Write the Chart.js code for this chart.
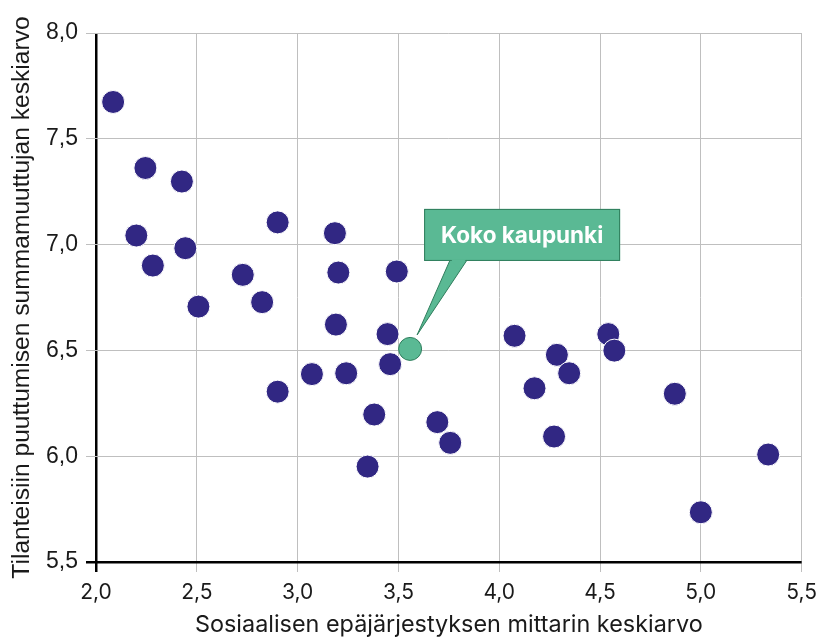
<!DOCTYPE html>
<html>
<head>
<meta charset="utf-8">
<script src="https://cdn.jsdelivr.net/npm/chart.js@4/dist/chart.umd.min.js"></script>
<style>
  html, body { margin: 0; padding: 0; background: #ffffff; }
  #wrap { width: 825px; height: 639px; position: relative; }
</style>
</head>
<body>
<div id="wrap"><canvas id="c" width="825" height="639"></canvas></div>
<script>
// ---- Data ----
const xTitle = 'Sosiaalisen epäjärjestyksen mittarin keskiarvo';
const yTitle = 'Tilanteisiin puuttumisen summamuuttujan keskiarvo';

// districts: social disorder mean (x) and intervention mean (y)
const districtX = [2.085, 2.245, 2.426, 2.200, 2.443, 2.282, 2.901, 2.728, 2.508, 2.824,
                   3.185, 3.202, 3.492, 3.190, 3.446, 3.459, 3.071, 3.241, 2.901, 3.380,
                   3.347, 3.693, 3.757, 4.076, 4.286, 4.347, 4.175, 4.272, 4.541, 4.571,
                   4.871, 5.334, 5.000];
const districtY = [7.674, 7.362, 7.298, 7.043, 6.983, 6.901, 7.105, 6.857, 6.707, 6.728,
                   7.054, 6.868, 6.873, 6.622, 6.577, 6.435, 6.388, 6.392, 6.305, 6.197,
                   5.951, 6.161, 6.063, 6.569, 6.479, 6.392, 6.321, 6.093, 6.577, 6.499,
                   6.295, 6.008, 5.735];

// whole city
const cityLabel = 'Koko kaupunki';
const cityX = [3.558];
const cityY = [6.507];

const xTicks = [2.0, 2.5, 3.0, 3.5, 4.0, 4.5, 5.0, 5.5];
const yTicks = [5.5, 6.0, 6.5, 7.0, 7.5, 8.0];

// ---- Build ----
const toPts = (xs, ys) => xs.map((x, i) => ({ x: x, y: ys[i] }));
const fmt = v => Number(v).toFixed(1).replace('.', ',');

const DARK = '#312783';
const GREEN = '#5ab994';
const GREEN_EDGE = '#2f7d5c';
const GRID = '#bfbfbf';

const calloutPlugin = {
  id: 'callout',
  afterDatasetsDraw(chart) {
    const meta = chart.getDatasetMeta(1);
    if (!meta || !meta.data.length) return;
    const p = meta.data[0];
    const px = p.x, py = p.y;
    const ctx = chart.ctx;
    const L = px + 14, T = py - 140, R = px + 210, B = py - 88;
    ctx.save();
    // pointer
    ctx.beginPath();
    ctx.moveTo(px + 40, B - 1);
    ctx.lineTo(px + 7, py - 14);
    ctx.lineTo(px + 57, B - 1);
    ctx.closePath();
    ctx.fillStyle = GREEN;
    ctx.fill();
    ctx.strokeStyle = GREEN_EDGE;
    ctx.lineWidth = 1;
    ctx.stroke();
    // box
    ctx.fillStyle = GREEN;
    ctx.fillRect(L, T, R - L, B - T);
    ctx.strokeRect(L + 0.5, T + 0.5, R - L - 1, B - T - 1);
    // cover pointer base inside box
    ctx.beginPath();
    ctx.moveTo(px + 41, B - 1.5);
    ctx.lineTo(px + 56, B - 1.5);
    ctx.lineTo(px + 48, B + 8);
    ctx.closePath();
    ctx.fillStyle = GREEN;
    ctx.fill();
    // text
    ctx.fillStyle = '#ffffff';
    ctx.font = 'bold 22.5px Inter, "Liberation Sans", sans-serif';
    ctx.textAlign = 'center';
    ctx.textBaseline = 'middle';
    ctx.fillText(cityLabel, (L + R) / 2, (T + B) / 2 + 1);
    ctx.restore();
  }
};

new Chart(document.getElementById('c'), {
  type: 'scatter',
  data: {
    datasets: [
      {
        label: 'Alueet',
        data: toPts(districtX, districtY),
        backgroundColor: DARK,
        borderColor: '#ffffff',
        borderWidth: 1,
        pointRadius: 11.5,
        pointHoverRadius: 11.5
      },
      {
        label: cityLabel,
        data: toPts(cityX, cityY),
        backgroundColor: GREEN,
        borderColor: GREEN_EDGE,
        borderWidth: 1,
        pointRadius: 11.5,
        pointHoverRadius: 11.5
      }
    ]
  },
  options: {
    responsive: false,
    animation: false,
    devicePixelRatio: 1,
    layout: { padding: { top: 33, right: 21, left: 0, bottom: 0 } },
    plugins: {
      legend: { display: false },
      tooltip: { enabled: false },
      title: { display: false }
    },
    scales: {
      x: {
        type: 'linear',
        min: xTicks[0],
        max: xTicks[xTicks.length - 1],
        afterBuildTicks: s => { s.ticks = xTicks.map(v => ({ value: v })); },
        afterFit: s => { s.height = 77; },
        border: { display: false },
        grid: {
          color: c => (c.tick && c.tick.value === xTicks[0]) ? '#000000' : GRID,
          lineWidth: c => (c.tick && c.tick.value === xTicks[0]) ? 2.5 : 1,
          tickLength: 10,
          drawTicks: true
        },
        ticks: {
          callback: v => fmt(v),
          color: '#1a1a1a',
          font: { family: 'Inter', size: 21 },
          padding: 8,
          maxRotation: 0
        },
        title: {
          display: true,
          text: xTitle,
          color: '#1a1a1a',
          font: { family: 'Inter', size: 23.4 },
          padding: { top: 0, bottom: 0 }
        }
      },
      y: {
        type: 'linear',
        min: yTicks[0],
        max: yTicks[yTicks.length - 1],
        afterBuildTicks: s => { s.ticks = yTicks.map(v => ({ value: v })); },
        afterFit: s => { s.width = 96; },
        border: { display: false },
        grid: {
          color: c => (c.tick && c.tick.value === yTicks[0]) ? '#000000' : GRID,
          lineWidth: c => (c.tick && c.tick.value === yTicks[0]) ? 2.5 : 1,
          tickLength: 10,
          drawTicks: true
        },
        ticks: {
          callback: v => fmt(v),
          color: '#1a1a1a',
          font: { family: 'Liberation Sans', size: 23 },
          padding: 8
        },
        title: {
          display: true,
          text: yTitle,
          color: '#1a1a1a',
          font: { family: 'Liberation Sans', size: 24.6 },
          padding: { top: 7, bottom: 0 }
        }
      }
    }
  },
  plugins: [calloutPlugin]
});
</script>
</body>
</html>
